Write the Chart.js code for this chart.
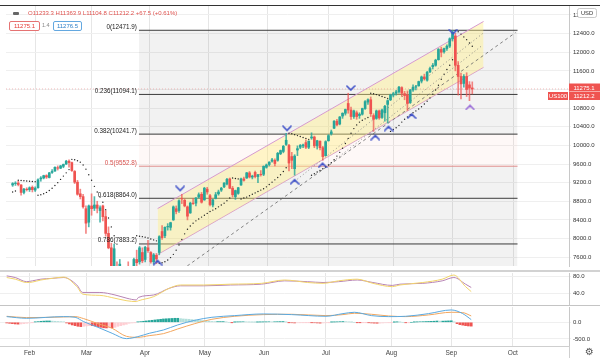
<!DOCTYPE html>
<html><head><meta charset="utf-8">
<script src="https://cdn.jsdelivr.net/npm/chart.js@4.4.0/dist/chart.umd.min.js"></script>
<style>
html,body{margin:0;padding:0;background:#fff;width:600px;height:358px;overflow:hidden;font-family:"Liberation Sans",Arial,sans-serif;}
#wrap{position:relative;width:600px;height:358px;}
canvas{position:absolute;left:0;}
#c1{top:0}#c2{top:272px}#c3{top:306px}
.ov{position:absolute;}
</style></head><body><div id="wrap">
<canvas id="c1" width="600" height="272"></canvas>
<canvas id="c2" width="600" height="34"></canvas>
<canvas id="c3" width="600" height="52"></canvas>
<div class="ov" style="left:0;top:5px;width:600px;height:1px;background:#333"></div>
<div class="ov" style="left:0;top:270px;width:600px;height:2px;background:#d2d2d2"></div>
<div class="ov" style="left:0;top:305px;width:600px;height:1px;background:#c4c4c4"></div>
<div class="ov" style="left:0;top:346px;width:569px;height:1px;background:#cfcfcf"></div>
<div class="ov" style="left:569px;top:346px;width:1px;height:12px;background:#cfcfcf"></div>
<div class="ov" style="left:13px;top:12px;width:6px;height:3px;border-radius:1px;background:#666"></div>
<div class="ov" style="left:28px;top:10px;font-size:6px;color:#e0524e;white-space:nowrap">O11233.3 H11363.9 L11104.8 C11212.2 +67.5 (+0.61%)</div>
<div class="ov" style="left:9px;top:21px;width:29px;height:8px;border:1px solid #e57373;border-radius:2px;font-size:6px;line-height:8px;text-align:center;color:#e53935;background:#fff">11275.1</div>
<div class="ov" style="left:42px;top:22px;font-size:5.5px;color:#888">1.4</div>
<div class="ov" style="left:53px;top:21px;width:27px;height:8px;border:1px solid #64a8e0;border-radius:2px;font-size:6px;line-height:8px;text-align:center;color:#2f80c8;background:#fff">11276.5</div>
<div class="ov" style="left:585px;top:346px;font-size:10px;color:#555;font-family:'DejaVu Sans'">⚙</div>
</div>
<script>
const FONT = '"Liberation Sans", Arial, sans-serif';
const X_MIN = -2.35, X_MAX = 197.3;
const monthPos = [8, 28, 48.5, 69.5, 90.3, 112, 135, 156, 177.6];
const monthLabels = ['Feb','Mar','Apr','May','Jun','Jul','Aug','Sep','Oct'];
const priceTicks = [7600,8000,8400,8800,9200,9600,10000,10400,10800,11200,11600,12000,12400,12800];

const opens = [9150,9180,9190,9150,8990,9060,9050,9100,9040,9090,9280,9300,9350,9310,9420,9450,9520,9510,9550,9600,9660,9630,9440,9210,8960,8900,8640,8350,8700,8650,8720,8600,8700,8470,8110,7800,7400,7300,7050,7200,7100,7350,6950,7200,7550,7500,7700,7550,7800,7700,7500,7640,7700,8150,8060,8250,8240,8400,8640,8600,8860,8820,8680,8550,8760,8760,8890,8950,8830,9060,8920,8720,8860,8960,9040,9110,9170,9280,9080,8900,8970,9150,9280,9300,9410,9320,9420,9330,9380,9380,9530,9590,9660,9680,9680,9820,9870,10020,10000,9760,9500,9900,9960,9990,10060,9960,10160,10180,9990,10090,9950,9780,10100,10250,10370,10520,10460,10630,10690,10900,10760,10620,10700,10640,10670,10790,10930,10980,10640,10580,10740,10600,10700,10880,10980,11080,11120,11150,11240,11110,11080,10920,11190,11250,11280,11380,11470,11400,11580,11690,11720,11840,12060,12010,12080,12130,12290,12350,11720,11480,11330,11480,11300,11233.3];
const highs = [9200,9220,9230,9160,9080,9090,9110,9130,9110,9280,9330,9360,9370,9420,9480,9540,9560,9570,9600,9680,9690,9640,9460,9250,9060,8950,8700,8720,8960,8900,8800,8700,8720,8600,8250,7900,7880,7500,7550,7350,7400,7500,7100,7580,7750,7830,7800,7830,7960,7720,7680,7680,8060,8280,8250,8320,8350,8700,8700,8830,8950,8850,8700,8780,8860,8880,8980,8990,9100,9100,8950,8840,8990,9040,9100,9200,9290,9300,9120,9040,9100,9300,9320,9420,9440,9360,9450,9380,9460,9560,9600,9650,9720,9710,9850,9900,10000,10260,10020,9850,9800,9990,10020,10030,10120,10100,10270,10200,10110,10100,9980,10100,10230,10330,10530,10560,10620,10700,10780,11120,10820,10760,10740,10700,10800,10960,11000,11040,10680,10760,10760,10780,10860,10980,11100,11140,11180,11270,11260,11160,11170,11200,11300,11290,11380,11490,11530,11590,11680,11760,11850,12080,12110,12090,12160,12310,12470,12410,11800,11550,11520,11560,11370,11363.9];
const lows = [9120,9140,9130,8930,8960,9020,9010,9000,9010,9080,9230,9280,9290,9300,9400,9440,9470,9500,9520,9590,9530,9440,9180,8930,8850,8650,8110,8250,8500,8600,8550,8350,8380,8050,7780,7300,7300,6900,6950,6800,6900,6850,6650,7150,7400,7450,7480,7500,7700,7470,7450,7460,7650,7980,8020,8180,8180,8390,8530,8560,8750,8680,8400,8540,8730,8700,8870,8760,8820,8950,8700,8680,8850,8930,9010,9090,9150,9070,8890,8840,8950,9140,9230,9290,9300,9280,9300,9200,9340,9350,9510,9560,9640,9560,9660,9800,9840,10000,9450,9500,9360,9780,9930,9950,9930,9930,10130,9950,9920,9900,9680,9770,10090,10220,10360,10420,10440,10580,10650,10690,10560,10580,10560,10580,10650,10770,10880,10620,10300,10560,10560,10580,10520,10480,10960,11040,11080,11120,11050,10980,10750,10900,11160,11190,11270,11340,11400,11380,11560,11640,11700,11830,11900,11980,12040,12100,12240,11600,11080,11000,11250,11050,10960,11104.8];
const closes = [9180,9190,9160,8990,9060,9050,9090,9050,9080,9260,9300,9350,9320,9410,9440,9530,9510,9560,9590,9660,9630,9460,9210,8950,8900,8680,8330,8700,8640,8720,8650,8660,8470,8110,7800,7350,7780,7000,7450,7100,7300,6900,6950,7550,7480,7800,7520,7810,7740,7500,7650,7560,8040,8020,8240,8260,8340,8680,8580,8810,8850,8700,8480,8760,8750,8870,8940,8780,9080,9000,8730,8830,8940,9000,9080,9190,9270,9080,8940,9030,9090,9280,9250,9410,9320,9340,9330,9370,9370,9550,9580,9640,9690,9610,9830,9890,9980,10110,9620,9680,9770,9930,10000,10010,9960,10090,10180,9990,10100,9950,9760,10080,10210,10290,10520,10440,10610,10690,10770,10760,10620,10740,10620,10670,10790,10940,10980,10680,10560,10740,10590,10760,10840,10960,11080,11110,11150,11250,11120,11070,10900,11190,11250,11260,11370,11470,11430,11570,11650,11720,11830,12060,12000,12080,12130,12290,12430,11720,11480,11320,11480,11200,11230,11212.2];

const sarVals = [9000,9020,9250,9245,9240,9235,9230,9225,9220,
8930,8940,8960,8990,9030,9080,9140,9200,9270,9340,9410,9480,
9700,9690,9670,9640,9580,9490,9370,9250,9120,9000,8890,8780,8620,8440,8250,8060,7880,
null,null,null,null,null,null,
8060,8050,8040,8030,8010,7990,7970,7950,
7470,7480,7500,7540,7590,7660,7750,7860,7980,8100,
8200,8270,8330,8380,8420,8460,8500,8540,8580,8610,8640,8680,8720,8760,8810,8870,
9300,9290,9280,
8850,8870,8890,8920,8950,8980,9010,9040,9070,9110,9160,9210,9260,9310,9370,9440,9520,
10260,10250,10230,10210,10190,10170,10150,10130,
9360,9390,9430,9460,9500,9540,9580,9630,9690,9770,9850,9940,10040,10150,10260,10360,10440,10500,10540,10570,10600,
11120,11110,11090,11070,11050,11030,11010,
10300,10340,10380,10430,10500,10560,10610,10660,10700,10740,10780,10830,10890,10950,11020,11100,11190,11290,11420,11530,11630,11720,11840,
12470,12440,12390,12330,12270,12200,12130];

const fibLevels = [0, 0.236, 0.382, 0.5, 0.618, 0.786, 1];
const fibValues = [12471.9, 11094.1, 10241.7, 9552.8, 8864.0, 7883.2, 6633.8];
const fibStart = 44.8, fibEnd = 179.05;

const channelX = [51.4, 167.0];
const channelUpper = [8643, 12661];
const channelLower = [7655, 11676];
const dashX = [55.0, 178.35];
const dashY = [7113, 12422];
const dotAX = [100, 167.1];
const dotAY = [9229, 12422];
const dotBX = [109.9, 166.1];
const dotBY = [9482, 12126];

const chevIdx = [51.4, 59.4, 97.3, 100, 109.9, 119.9, 128.6, 133.3, 141.5, 156.2, 162.2];
const chevPrice = [7494, 9066, 10356, 9229, 9582, 11223, 10180, 10371, 10639, 12433, 10825];
const chevDir = ['^','v','v','^','^','v','^','^','^','v','^'];
const chevPurple = [false,false,false,false,false,false,false,false,false,false,true];

const lastPrice = 11212.2, bidPrice = 11275.1;

const rsiIdx = [0,3,7,9,12,16,20,24.6,26.7,32.7,38,42.2,45.5,46.2,51.6,57,61,69,78.6,89.4,97.5,105.6,111,116.4,123,128.5,135.3,138,146,152.8,156.9,161,163];
const rsiPurple = [82,78,68,70,74,76,78,60,42,42,36,28,24,30,36,52,58,58,60,62,70,68,66,68,72,66,59,62,64,70,78,62,54];
const rsiYellow = [78,74,66,67,72,76,79,56,38,35,28,22,20,22,32,52,60,60,62,64,72,66,64,70,74,64,56,60,66,74,84,56,44];

const macdIdx = [0,7,20,24,27,32,37,42,46,50,55,60,66,72,80,90,100,112,118,122,128,134,140,148,156,160,163];
const macdBlue = [170,120,170,150,20,-150,-330,-490,-430,-330,-230,-80,60,150,200,250,230,180,260,300,200,170,180,260,370,260,80];
const macdOrange = [180,140,160,170,110,-40,-180,-420,-450,-400,-340,-200,-40,90,180,230,240,200,230,270,240,190,170,220,300,290,190];
const macdHist = [-20,-30,-40,-50,-55,-50,-40,-30,-20,-5,10,20,30,35,40,40,35,30,25,20,15,
-20,-50,-80,-100,-120,-130,-120,-110,-100,-100,-110,-130,-150,-165,-170,-160,-165,-150,-120,-100,-80,-60,-30,-20,-10,
10,20,30,40,50,60,70,80,90,100,105,110,115,120,120,110,100,95,90,80,70,60,55,50,40,30,25,20,20,20,20,10,0,-5,
5,10,12,15,12,8,5,3,5,8,10,12,15,12,15,18,20,22,10,-5,-15,-20,-15,-10,-8,-5,-3,-8,-15,-20,-25,-20,-12,-5,5,8,12,18,22,20,12,5,0,-5,-5,-3,-2,-10,-20,-25,-28,-25,-20,-15,-8,-3,2,8,5,0,-8,-5,0,5,10,15,18,22,25,28,32,38,35,35,38,42,45,10,-40,-70,-85,-100,-110,-115];

// ---------- helpers ----------
const UP = '#26a69a', DN = '#ef5350';
function xScale(showLabels){
  return {
    type:'linear', min:X_MIN, max:X_MAX, offset:false,
    afterBuildTicks: s => { s.ticks = monthPos.map(v=>({value:v})); },
    ticks:{display:showLabels, autoSkip:false, maxRotation:0, padding:3, font:{size:6.5,family:FONT}, color:'#444',
      callback:(v,i)=>monthLabels[i]},
    grid:{color:'#e6e6e6', drawTicks:false, offset:false},
    border:{display:false},
    afterFit: s=>{ s.height = showLabels?12:0; s.paddingLeft=0; s.paddingRight=0; }
  };
}
function yScale(min,max,ticks,fmt){
  return {
    type:'linear', position:'right', min, max,
    afterBuildTicks: s=>{ s.ticks = ticks.map(v=>({value:v})); },
    ticks:{font:{size:6,family:FONT}, color:'#333', padding:2, callback:fmt},
    grid:{color:'#efefef', tickLength:2},
    border:{display:true, color:'#c8c8c8'},
    afterFit: s=>{ s.width=31; s.paddingTop=0; s.paddingBottom=0; }
  };
}
function chev(up, color){
  const c=document.createElement('canvas'); c.width=10; c.height=7;
  const g=c.getContext('2d'); g.strokeStyle=color; g.lineWidth=1.6; g.lineCap='round';
  g.beginPath();
  if(up){g.moveTo(1,6);g.lineTo(5,2);g.lineTo(9,6);} else {g.moveTo(1,1);g.lineTo(5,5);g.lineTo(9,1);}
  g.stroke(); return c;
}
const seg = (xs,ys)=>xs.map((x,i)=>({x, y:ys[i]}));
const commonOpts = {responsive:false, animation:false, events:[], plugins:{legend:{display:false}, tooltip:{enabled:false}}};

// ---------- main chart ----------
const fibBand = ['rgba(0,0,0,0.05)','rgba(0,0,0,0.05)','rgba(240,140,120,0.06)','rgba(0,0,0,0.05)','rgba(0,0,0,0.05)','rgba(0,0,0,0.05)'];
const fibDatasets = fibLevels.map((l,i)=>({
  type:'line', data:seg([fibStart,fibEnd],[fibValues[i],fibValues[i]]),
  borderColor: l===0.5 ? '#dc8c8c' : (l===1?'rgba(0,0,0,0)':'#3c3c3c'), borderWidth:1,
  pointRadius:0, fill: i<fibLevels.length-1 ? '+1' : false, backgroundColor: fibBand[i]||'transparent', order:100
}));
const candleIdx = opens.map((_,i)=>i);
const isUp = candleIdx.map(i=>closes[i]>=opens[i]);
const mainDatasets = [
  ...fibDatasets,
  {type:'line', data:seg(channelX,channelUpper), borderColor:'#d69ad0', borderWidth:1, pointRadius:0, fill:'+1', backgroundColor:'rgba(255,238,130,0.42)', order:50},
  {type:'line', data:seg(channelX,channelLower), borderColor:'#d69ad0', borderWidth:1, pointRadius:0, fill:false, order:50},
  {type:'line', data:seg(dashX,dashY), borderColor:'#666', borderWidth:0.8, borderDash:[3,3], pointRadius:0, fill:false, order:40},
  {type:'line', data:seg(dotAX,dotAY), borderColor:'#777', borderWidth:0.8, borderDash:[1,2.5], pointRadius:0, fill:false, order:40},
  {type:'line', data:seg(dotBX,dotBY), borderColor:'#777', borderWidth:0.8, borderDash:[1,2.5], pointRadius:0, fill:false, order:40},
  {type:'line', data:seg([X_MIN,X_MAX],[lastPrice,lastPrice]), borderColor:'rgba(230,120,120,0.6)', borderWidth:0.8, borderDash:[1,2], pointRadius:0, fill:false, order:45},
  {type:'bar', data:candleIdx.map(i=>({x:i, y:[lows[i],highs[i]]})), backgroundColor:candleIdx.map(i=>isUp[i]?'rgba(38,166,154,0.8)':'rgba(239,83,80,0.7)'), barThickness:1, grouped:false, order:20},
  {type:'bar', data:candleIdx.map(i=>({x:i, y:[opens[i],closes[i]]})), backgroundColor:candleIdx.map(i=>isUp[i]?UP:DN), barThickness:2, grouped:false, order:19},
  {type:'line', data:candleIdx.filter(i=>sarVals[i]!==null).map(i=>({x:i,y:sarVals[i]})), showLine:false, pointRadius:0.7, pointBackgroundColor:'#222', pointBorderWidth:0, order:10},
  {type:'line', data:seg(chevIdx,chevPrice), showLine:false, pointStyle:chevIdx.map((_,i)=>chev(chevDir[i]==='^', chevPurple[i]?'#9b6fd8':'#3f51c8')), pointRadius:5, order:5}
];
const mainPlugin = {
  id:'mainDeco',
  afterDraw(chart){
    const {ctx, scales:{x,y}, chartArea} = chart;
    ctx.save();
    ctx.font = '6.3px '+FONT; ctx.textAlign='right'; ctx.textBaseline='alphabetic';
    fibLevels.forEach((l,i)=>{
      const py = y.getPixelForValue(fibValues[i]);
      if(py<chartArea.top||py>chartArea.bottom) return;
      ctx.fillStyle = l===0.5 ? '#d9534f' : '#222';
      ctx.fillText(l+'('+fibValues[i].toFixed(1)+')', x.getPixelForValue(fibStart)-2, py-1.5);
    });
    const p1 = y.getPixelForValue(bidPrice)+1.5, p2 = p1+8.5;
    ctx.fillStyle='#ef5350';
    ctx.fillRect(569,p1-4,31,8); ctx.fillRect(569,p2-4,31,8); ctx.fillRect(548,p2-4,20,8);
    ctx.fillStyle='#fff'; ctx.textAlign='center'; ctx.textBaseline='middle'; ctx.font='6px '+FONT;
    ctx.fillText(bidPrice.toFixed(1),584,p1+0.5); ctx.fillText(lastPrice.toFixed(1),584,p2+0.5); ctx.fillText('US100',558,p2+0.5);
    ctx.fillStyle='#fff'; ctx.strokeStyle='#bbb'; ctx.lineWidth=0.8;
    ctx.beginPath(); ctx.roundRect(577.5,8.5,19,9,2); ctx.fill(); ctx.stroke();
    ctx.fillStyle='#333'; ctx.font='5.8px '+FONT; ctx.fillText('USD',587,13.3);
    ctx.restore();
  }
};
new Chart(document.getElementById('c1'), {
  type:'bar',
  data:{datasets:mainDatasets},
  options:{...commonOpts, layout:{padding:{top:6,bottom:2,left:0,right:0}},
    scales:{x:xScale(false), y:yScale(7410,12993,priceTicks,v=>Number(v).toFixed(1))}},
  plugins:[mainPlugin]
});

// ---------- RSI ----------
new Chart(document.getElementById('c2'), {
  type:'line',
  data:{datasets:[
    {data:seg(rsiIdx,rsiYellow), borderColor:'#f2d46b', borderWidth:1, pointRadius:0, cubicInterpolationMode:'monotone'},
    {data:seg(rsiIdx,rsiPurple), borderColor:'#b783b4', borderWidth:1, pointRadius:0, cubicInterpolationMode:'monotone'}
  ]},
  options:{...commonOpts, layout:{padding:{top:1,bottom:1,left:0,right:0}},
    scales:{x:xScale(false), y:yScale(11.8,88.9,[40,80],v=>Number(v).toFixed(1))}}
});

// ---------- MACD ----------
new Chart(document.getElementById('c3'), {
  type:'bar',
  data:{datasets:[
    {type:'line', data:seg(macdIdx,macdBlue), borderColor:'#5aa9e0', borderWidth:1, pointRadius:0, cubicInterpolationMode:'monotone', order:1},
    {type:'line', data:seg(macdIdx,macdOrange), borderColor:'#f2a65e', borderWidth:1, pointRadius:0, cubicInterpolationMode:'monotone', order:2},
    {type:'bar', data:macdHist.map((v,i)=>({x:i,y:v})), barThickness:2, order:3,
      backgroundColor:macdHist.map((v,i)=>{const p=i>0?macdHist[i-1]:v; return v>=0?(v>=p?'#26a69a':'#b2dfdb'):(v<=p?'#ef5350':'#ffcdd2');})}
  ]},
  options:{...commonOpts, layout:{padding:{top:1,bottom:0,left:0,right:0}},
    scales:{x:xScale(true), y:yScale(-710,458,[-500,0],v=>Number(v).toFixed(1))}}
});
</script></body></html>
